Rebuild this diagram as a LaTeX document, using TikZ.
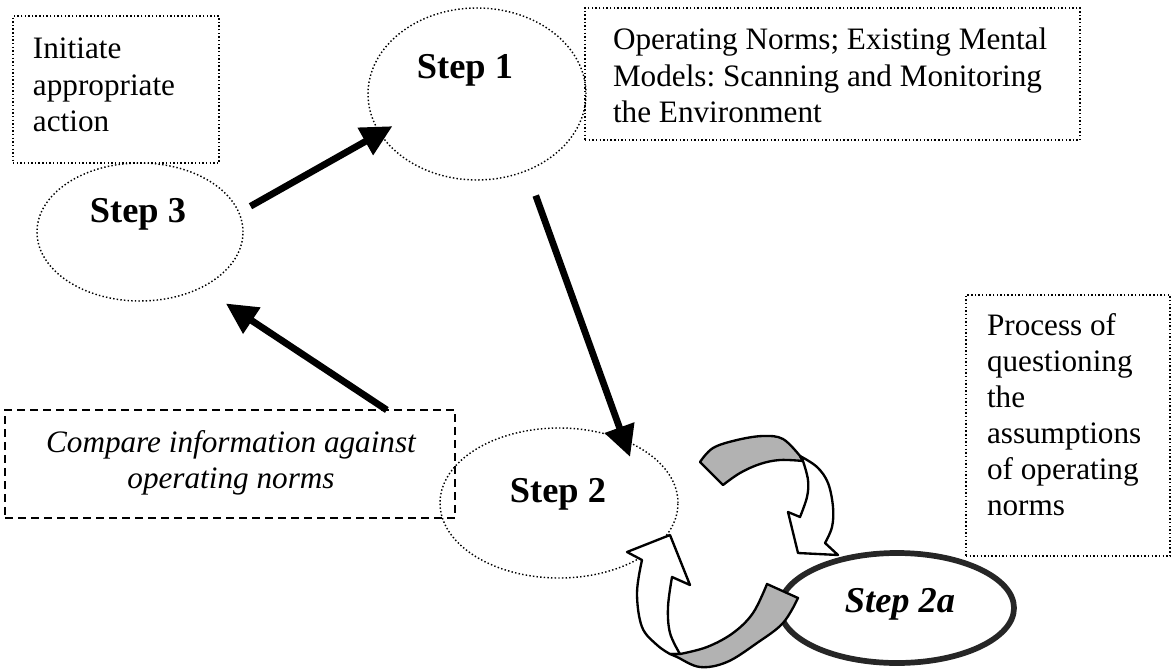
\documentclass[tikz,border=0pt]{standalone}
\usepackage{fontspec}
\setmainfont{Liberation Serif}
\usetikzlibrary{shapes.geometric,arrows.meta}
\newcommand{\pxu}{0.3846pt}
\frenchspacing

\begin{document}
\begin{tikzpicture}[x=0.3846pt,y=-0.3846pt,
  every node/.style={inner sep=0pt, outer sep=0pt},
  dotline/.style={line width=0.55pt, dash pattern=on 0.55pt off 0.85pt},
  notebox/.style={draw, dotline, rectangle, anchor=north west},
  dashbox/.style={draw, line width=0.6pt, dash pattern=on 3pt off 2pt, rectangle, anchor=north west},
  stepell/.style={draw, dotline, ellipse},
  steplabel/.style={font=\fontsize{14}{16}\selectfont\bfseries, anchor=base},
  notetext/.style={font=\fontsize{12}{13.85}\selectfont, anchor=base west},
  flow/.style={line width=2.6pt, -{Triangle[length=12pt,width=11.5pt]}},
  ribbon/.style={draw, line width=0.9pt, line join=round},
  backside/.style={ribbon, fill=black!30},
  frontside/.style={ribbon, fill=white},
]
\useasboundingbox (0,0) rectangle (1171,671);

% note boxes
\node[notebox, minimum width=206*\pxu, minimum height=147*\pxu] (act) at (13,16) {};
\node[notetext] (acttxt) at (33,59) {\parbox[t]{180pt}{Initiate\\appropriate\\action}};

\node[notebox, minimum width=495*\pxu, minimum height=132*\pxu] (scan) at (585,8) {};
\node[notetext] (scantxt) at (613,50) {\parbox[t]{200pt}{Operating Norms; Existing Mental\\Models: Scanning and Monitoring\\the Environment}};

\node[notebox, minimum width=204*\pxu, minimum height=261*\pxu] (quest) at (966,295) {};
\node[notetext] (questtxt) at (987,335) {\parbox[t]{80pt}{Process of\\questioning\\the\\assumptions\\of operating\\norms}};

\node[dashbox, minimum width=450*\pxu, minimum height=108*\pxu] (cmp) at (5,410) {};
\node[notetext, anchor=base, font=\fontsize{12}{13.85}\selectfont\itshape] (cmptxt) at (231,452)
  {\parbox[t]{170pt}{\centering Compare information against\\operating norms}};

% step ellipses
\node[stepell, minimum width=206*\pxu, minimum height=138*\pxu] (s3) at (140,232) {};
\node[stepell, minimum width=218*\pxu, minimum height=172*\pxu] (s1) at (477,94) {};
\node[stepell, minimum width=238*\pxu, minimum height=150*\pxu] (s2) at (559,503) {};
\node[draw, ellipse, line width=2.2pt, draw=black!85, minimum width=234*\pxu, minimum height=110*\pxu] (s2a) at (897,608) {};

\node[steplabel] (s3txt) at (138,222) {Step 3};
\node[steplabel] (s1txt) at (465,79) {Step 1};
\node[steplabel] (s2txt) at (558,502) {Step 2};
\node[steplabel, font=\fontsize{14}{16}\selectfont\bfseries\itshape] (s2atxt) at (900,612) {Step 2a};

% main cycle
\draw[flow, shorten <=13.3*\pxu, shorten >=-14.3*\pxu] (s3.11.8) -- (s1.202.4);
\draw[flow, shorten <=26.6*\pxu, shorten >=-17.8*\pxu] (s1.303.9) -- (s2.44);
\draw[flow, shorten >=29.2*\pxu] (cmp.19.4) -- (s3.318.8);

% questioning loop: two twisted block arrows
\filldraw[backside] (700,462) -- plot[smooth, tension=0.6] coordinates {(700,462) (713,448) (737,440) (763,436) (783,439) (800,456)}
  -- plot[smooth, tension=0.6] coordinates {(803,461) (780,460) (760,464) (740,473) (723,485)} -- cycle;
\filldraw[frontside] (800,456) -- plot[smooth, tension=0.6] coordinates {(800,456) (817,467) (828,483) (833,507) (832,527) (825,543)}
  -- (838,555) -- (798,553) -- (788,512) -- (800,517)
  -- plot[smooth, tension=0.6] coordinates {(800,517) (807,497) (808,480) (803,461)} -- cycle;

\filldraw[frontside] (670,654) -- plot[smooth, tension=0.6] coordinates {(670,654) (657,645) (642,627) (637,593) (642,560)}
  -- (627,552) -- (670,535) -- (690,585) -- (672,577)
  -- plot[smooth, tension=0.6] coordinates {(672,577) (668,607) (670,633) (680,654)} -- cycle;
\filldraw[backside] (680,654) -- plot[smooth, tension=0.6] coordinates {(680,654) (707,647) (733,633) (753,613) (767,584)}
  -- (798,598) -- plot[smooth, tension=0.6] coordinates {(798,598) (783,623) (757,643) (727,662) (700,667) (677,657) (670,654)} -- cycle;
\end{tikzpicture}
\end{document}
